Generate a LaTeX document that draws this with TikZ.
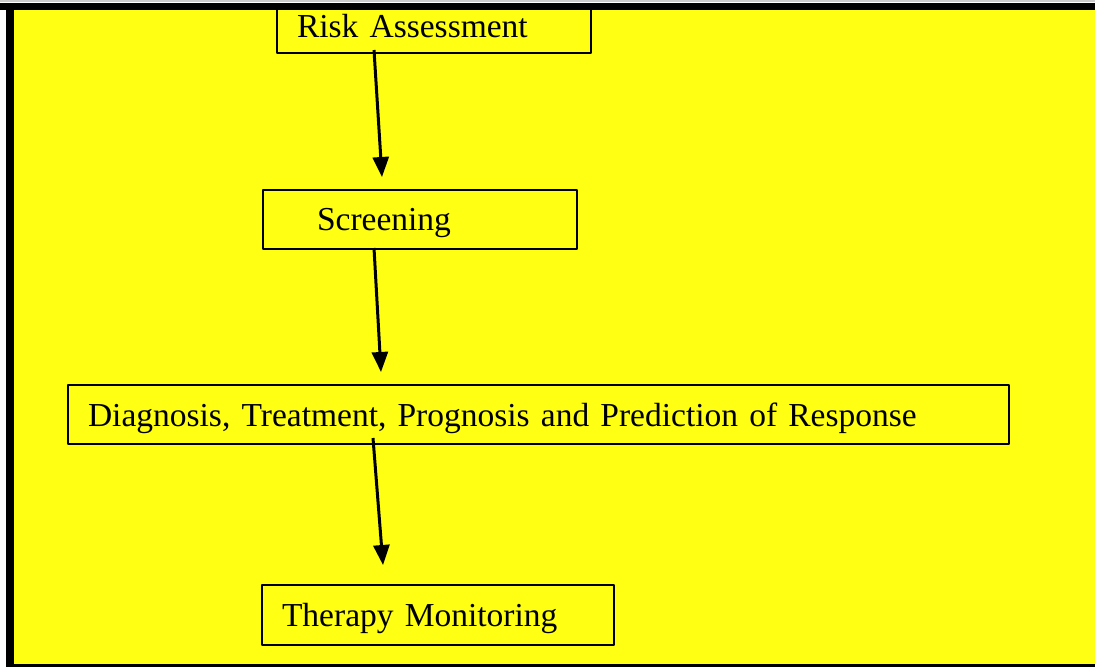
\documentclass[tikz,border=0pt]{standalone}
\usepackage{fontspec}
\setmainfont{Liberation Serif}
\usetikzlibrary{arrows.meta}
\definecolor{bgyellow}{RGB}{255,255,20}
\tikzset{
  stagebox/.style={draw,line width=1.6pt,anchor=north west,outer sep=0pt,
    inner xsep=20pt,inner ysep=0pt,align=left,text depth=0pt,
    font=\fontsize{33.5}{40}\selectfont},
  flow/.style={line width=3pt,-{Triangle[width=16pt,length=20pt]}}
}
\begin{document}
\begin{tikzpicture}[x=1pt,y=-1pt,join=round] %Flow of four stages
        \useasboundingbox (0,0) rectangle (1095,667);
        \fill[bgyellow](14,10) rectangle (1095,664);
        \node[stagebox,text width=274pt,minimum width=314pt,minimum height=54pt] (risk) at (277,-1) {Risk Assessment};
        \node[stagebox,inner xsep=54pt,text width=206pt,minimum width=314pt,minimum height=59pt] (screen) at (263,190) {Screening};
        \node[stagebox,text width=901pt,minimum width=941pt,minimum height=59pt] (diag) at (68,385) {Diagnosis, Treatment, Prognosis and Prediction of Response};
        \node[stagebox,text width=312pt,minimum width=352pt,minimum height=60pt] (therapy) at (262,585) {Therapy Monitoring};
        \draw[flow]([xshift=97pt,yshift=3pt]risk.south west)--([xshift=119pt,yshift=13pt]screen.north west);
        \draw[flow]([xshift=111pt,yshift=1pt]screen.south west)--([xshift=313pt,yshift=13pt]diag.north west);
        \draw[flow]([xshift=305pt,yshift=6pt]diag.south west)--([xshift=121pt,yshift=20pt]therapy.north west);
        \fill[white](0,0) rectangle (1095,3);
        \fill[black!20](0,0) rectangle (1095,2);
        \fill[white](0,3) rectangle (6,667);
        \fill[black](0,3) rectangle (1095,10);
        \fill[black](6,3) rectangle (14,667);
        \fill[black](6,664) rectangle (1095,667);
\end{tikzpicture}
\end{document}
